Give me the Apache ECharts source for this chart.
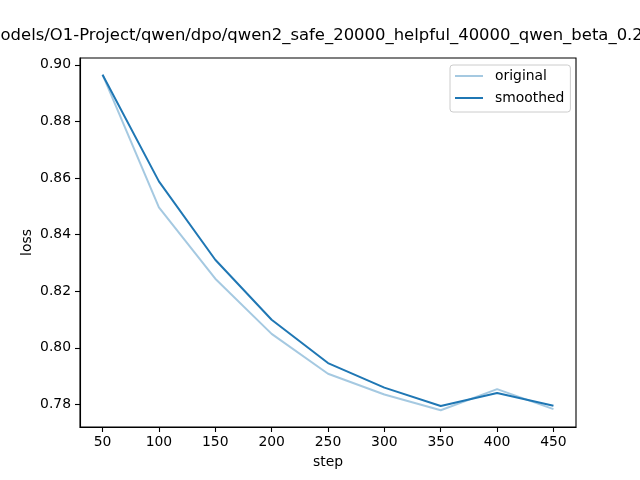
<!DOCTYPE html>
<html>
<head>
<meta charset="utf-8">
<script src="https://cdn.jsdelivr.net/npm/echarts@6/dist/echarts.min.js"></script>
<style>html,body{margin:0;padding:0;background:#fff;}#c{width:640px;height:480px;}</style>
</head>
<body>
<div id="c"></div>
<script>
const titleText = "/models/O1-Project/qwen/dpo/qwen2_safe_20000_helpful_40000_qwen_beta_0.2";
const steps = [50, 100, 150, 200, 250, 300, 350, 400, 450];
const original = [0.8965, 0.8496, 0.8244, 0.8049, 0.7908, 0.7835, 0.7779, 0.7854, 0.7783];
const smoothed = [0.8965, 0.8588, 0.8311, 0.8099, 0.7946, 0.7859, 0.7794, 0.7840, 0.7795];
const xTicks = [50, 100, 150, 200, 250, 300, 350, 400, 450];
const yTicks = [0.78, 0.80, 0.82, 0.84, 0.86, 0.88, 0.90];

const font = "DejaVu Sans";
const chart = echarts.init(document.getElementById('c'), null, {renderer: 'canvas'});
chart.setOption({
  animation: false,
  backgroundColor: '#fff',
  textStyle: {fontFamily: font},
  graphic: [{
    type: 'text', left: -21, top: 28,
    style: {text: titleText, font: '16.45px "DejaVu Sans"', fill: '#000'}
  }],
  grid: {left: 80, right: 64, top: 58, bottom: 53, show: true, borderColor: '#000', borderWidth: 1.1, backgroundColor: 'transparent'},
  legend: {
    orient: 'vertical', left: 450, top: 65,
    itemWidth: 28, itemHeight: 14, itemGap: 8,
    padding: [4, 6, 7, 4],
    borderColor: '#cccccc', borderWidth: 1, borderRadius: 3,
    backgroundColor: 'rgba(255,255,255,0.8)',
    itemStyle: {opacity: 0},
    textStyle: {fontFamily: font, fontSize: 13.9, color: '#000', padding: [0, 0, 0, 7]},
    data: [{name: 'original'}, {name: 'smoothed'}]
  },
  xAxis: {
    type: 'value', min: 30, max: 470,
    name: 'step', nameLocation: 'middle', nameGap: 28, nameMoveOverlap: false,
    nameTextStyle: {fontFamily: font, fontSize: 13.9, color: '#000'},
    axisLine: {show: true, onZero: false, lineStyle: {color: '#000', width: 1.1}},
    axisTick: {show: true, length: 5, lineStyle: {color: '#000', width: 1.1}, customValues: xTicks},
    axisLabel: {margin: 8, fontFamily: font, fontSize: 13.9, color: '#000', customValues: xTicks},
    splitLine: {show: false}
  },
  yAxis: {
    type: 'value', min: 0.772, max: 0.9024,
    name: 'loss', nameLocation: 'middle', nameGap: 46, nameRotate: 90, nameMoveOverlap: false,
    nameTextStyle: {fontFamily: font, fontSize: 13.9, color: '#000'},
    axisLine: {show: true, onZero: false, lineStyle: {color: '#000', width: 1.1}},
    axisTick: {show: true, length: 5, lineStyle: {color: '#000', width: 1.1}, customValues: yTicks},
    axisLabel: {margin: 9, fontFamily: font, fontSize: 13.9, color: '#000', customValues: yTicks,
      formatter: v => v.toFixed(2)},
    splitLine: {show: false}
  },
  series: [
    {name: 'original', type: 'line', symbol: 'none', data: steps.map((s, i) => [s, original[i]]),
     itemStyle: {color: 'rgba(31,119,180,0.4)'}, lineStyle: {color: 'rgba(31,119,180,0.4)', width: 2}},
    {name: 'smoothed', type: 'line', symbol: 'none', data: steps.map((s, i) => [s, smoothed[i]]),
     itemStyle: {color: '#1f77b4'}, lineStyle: {color: '#1f77b4', width: 2}}
  ]
});
</script>
</body>
</html>
